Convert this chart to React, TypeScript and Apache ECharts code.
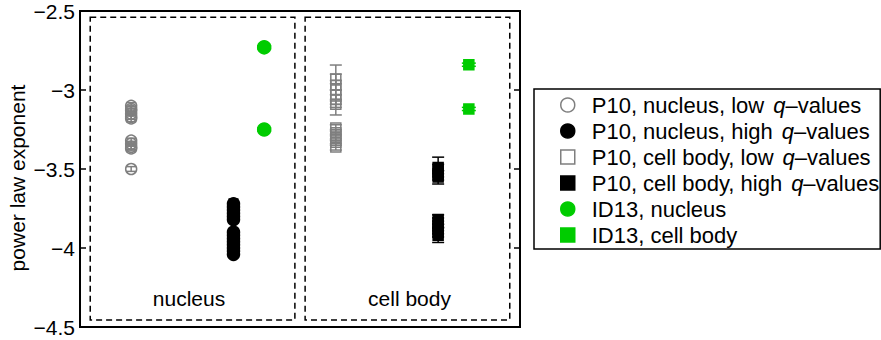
import React, { useEffect, useRef } from "react";
import * as echarts from "echarts";

// ---- data ----
const seriesNames = [
  "P10, nucleus, low",
  "P10, nucleus, high",
  "P10, cell body, low",
  "P10, cell body, high",
  "ID13, nucleus",
  "ID13, cell body",
];
const hasQSuffix = [true, true, true, true, false, false];
const groupX = [1, 3, 5, 7, 3.6, 7.6];
// order: nucleus-low, nucleus-high, cellbody-low, cellbody-high, id13-nucleus, id13-cellbody
const nucLowVals = [-3.1, -3.12, -3.13, -3.15, -3.17, -3.18, -3.32, -3.34, -3.36, -3.37, -3.5];
const nucLowErr = [0.02, 0.015, 0.015, 0.015, 0.015, 0.02, 0.015, 0.015, 0.015, 0.015, 0.015];
const nucHighVals = [-3.72, -3.74, -3.76, -3.78, -3.8, -3.82, -3.9, -3.92, -3.94, -3.96, -3.98, -4.0, -4.02, -4.04];
const nucHighErr = [0.03, 0.02, 0.02, 0.02, 0.02, 0.02, 0.015, 0.015, 0.015, 0.015, 0.015, 0.015, 0.015, 0.015];
const cellLowVals = [-2.93, -2.97, -3.0, -3.03, -3.06, -3.09, -3.24, -3.27, -3.3, -3.33, -3.36];
const cellLowErr = [0.03, 0.03, 0.158, 0.03, 0.03, 0.02, 0.02, 0.02, 0.02, 0.02, 0.02];
const cellHighVals = [-3.49, -3.51, -3.53, -3.55, -3.82, -3.84, -3.86, -3.88, -3.9, -3.92];
const cellHighErr = [0.02, 0.085, 0.02, 0.02, 0.03, 0.03, 0.03, 0.03, 0.03, 0.045];
const id13NucVals = [-2.73, -3.25];
const id13NucErr = [0.01, 0.01];
const id13CellVals = [-2.84, -3.12];
const id13CellErr = [0.01, 0.01];

const yTickValues = [-4.5, -4, -3.5, -3, -2.5];
const regionLabels = ["nucleus", "cell body"];
const regionLabelX = [2.13, 6.44];
const regionLabelY = -4.32;
const regionBoxX0 = [0.2, 4.4];
const regionBoxX1 = [4.2, 8.4];
const regionBoxTop = -2.54;
const regionBoxBottom = -4.455;
const yAxisTitle = "power law exponent";

const GRAY = "#7f7f7f";
const GREEN = "#00cc00";
const FONT = "Liberation Sans, Arial, Helvetica, sans-serif";
const FS = 21;
const LFS = 22;

const groups = [
  { vals: nucLowVals, err: nucLowErr, symbol: "circle", size: 11, fill: "rgba(0,0,0,0)", stroke: GRAY, legendFill: "#fff", cap: 5 },
  { vals: nucHighVals, err: nucHighErr, symbol: "circle", size: 12, fill: "#000", stroke: "#000", legendFill: "#000", cap: 5 },
  { vals: cellLowVals, err: cellLowErr, symbol: "rect", size: 10, fill: "rgba(0,0,0,0)", stroke: GRAY, legendFill: "#fff", cap: 6 },
  { vals: cellHighVals, err: cellHighErr, symbol: "rect", size: 10, fill: "#000", stroke: "#000", legendFill: "#000", cap: 6 },
  { vals: id13NucVals, err: id13NucErr, symbol: "circle", size: 13, fill: GREEN, stroke: GREEN, legendFill: GREEN, cap: 7 },
  { vals: id13CellVals, err: id13CellErr, symbol: "rect", size: 10, fill: GREEN, stroke: GREEN, legendFill: GREEN, cap: 7 },
];

export default function App() {
  const ref = useRef<HTMLDivElement>(null);
  useEffect(() => {
    if (!ref.current) return;
    const chart = echarts.init(ref.current, undefined, { renderer: "svg" });

    const series: any[] = [];
    // dashed region boxes
    series.push({
      type: "custom",
      silent: true,
      z: 1,
      data: regionBoxX0.map((x0, i) => [x0, regionBoxX1[i], regionBoxTop, regionBoxBottom]),
      encode: { x: [0, 1], y: [2, 3] },
      renderItem: (_p: any, api: any) => {
        const a = api.coord([api.value(0), api.value(2)]);
        const b = api.coord([api.value(1), api.value(3)]);
        return {
          type: "rect",
          shape: { x: a[0], y: a[1], width: b[0] - a[0], height: b[1] - a[1] },
          style: { fill: "none", stroke: "#000", lineWidth: 1.5, lineDash: [6, 4] },
        };
      },
    });
    // region labels
    series.push({
      type: "custom",
      silent: true,
      z: 1,
      data: regionLabels.map((t, i) => [regionLabelX[i], regionLabelY, t]),
      encode: { x: 0, y: 1 },
      renderItem: (p: any, api: any) => {
        const c = api.coord([api.value(0), api.value(1)]);
        return {
          type: "text",
          x: c[0],
          y: c[1],
          style: {
            text: regionLabels[p.dataIndex],
            fill: "#000",
            fontSize: FS,
            fontFamily: FONT,
            align: "center",
            verticalAlign: "middle",
            textAlign: "center",
            textVerticalAlign: "middle",
          },
        };
      },
    });

    groups.forEach((g, gi) => {
      const x = groupX[gi];
      series.push({
        type: "custom",
        silent: true,
        z: 2,
        data: g.vals.map((v, i) => [x, v, g.err[i]]),
        encode: { x: 0, y: 1 },
        renderItem: (_p: any, api: any) => {
          const xv = api.value(0), v = api.value(1), e = api.value(2);
          const t = api.coord([xv, v + e]);
          const b = api.coord([xv, v - e]);
          const st = { stroke: g.stroke, lineWidth: 1.5 };
          return {
            type: "group",
            children: [
              { type: "line", shape: { x1: t[0], y1: t[1], x2: b[0], y2: b[1] }, style: st },
              { type: "line", shape: { x1: t[0] - g.cap, y1: t[1], x2: t[0] + g.cap, y2: t[1] }, style: st },
              { type: "line", shape: { x1: b[0] - g.cap, y1: b[1], x2: b[0] + g.cap, y2: b[1] }, style: st },
            ],
          };
        },
      });
      series.push({
        type: "scatter",
        name: seriesNames[gi],
        z: 3,
        symbol: g.symbol,
        symbolSize: g.size,
        itemStyle: { color: g.fill, borderColor: g.stroke, borderWidth: 1.5, opacity: 1 },
        data: g.vals.map((v) => [x, v]),
      });
    });

    chart.setOption({
      animation: false,
      grid: {
        left: 80,
        top: 11,
        width: 440,
        height: 316,
        show: true,
        borderColor: "#000",
        borderWidth: 2,
        backgroundColor: "#fff",
      },
      xAxis: { type: "value", min: 0, max: 8.6, show: false },
      yAxis: [
        {
          type: "value",
          min: yTickValues[0],
          max: yTickValues[yTickValues.length - 1],
          interval: 0.5,
          position: "left",
          axisLine: { show: false },
          splitLine: { show: false },
          axisTick: { show: true, inside: true, length: 6, lineStyle: { color: "#000", width: 1.5 } },
          axisLabel: {
            margin: 5,
            color: "#000",
            fontSize: FS,
            fontFamily: FONT,
            formatter: (v: number) => String(v).replace("-", "\u2212"),
          },
        },
        {
          type: "value",
          min: yTickValues[0],
          max: yTickValues[yTickValues.length - 1],
          interval: 0.5,
          position: "right",
          axisLine: { show: false },
          splitLine: { show: false },
          axisTick: { show: true, inside: true, length: 6, lineStyle: { color: "#000", width: 1.5 } },
          axisLabel: { show: false },
        },
      ],
      legend: {
        orient: "vertical",
        left: 534,
        top: 89,
        padding: [5, 1, 3, 26],
        itemGap: 4,
        itemWidth: 14,
        itemHeight: 14,
        borderColor: "#000",
        borderWidth: 1.5,
        backgroundColor: "#fff",
        selectedMode: false,
        data: seriesNames.map((n, i) => ({
          name: n,
          icon: groups[i].symbol,
          itemStyle: { color: groups[i].legendFill, borderColor: groups[i].stroke, borderWidth: 1.5 },
        })),
        formatter: (name: string) => {
          const i = seriesNames.indexOf(name);
          return hasQSuffix[i] ? `{p|${name}}{q|q}{a|\u2013values}` : `{p|${name}}`;
        },
        textStyle: {
          color: "#000",
          fontSize: LFS,
          fontFamily: FONT,
          rich: {
            p: { fontSize: LFS, fontFamily: FONT, color: "#000", padding: [0, 0, 0, 12] },
            a: { fontSize: LFS, fontFamily: FONT, color: "#000" },
            q: { fontSize: LFS, fontFamily: FONT, color: "#000", fontStyle: "italic", padding: [0, 0, 0, 9] },
          },
        },
      },
      graphic: [
        {
          type: "text",
          x: 17,
          y: 178,
          rotation: Math.PI / 2,
          style: {
            text: yAxisTitle,
            fill: "#000",
            fontSize: FS,
            fontFamily: FONT,
            align: "center",
            verticalAlign: "middle",
            textAlign: "center",
            textVerticalAlign: "middle",
          },
        },
      ],
      series,
    });
    return () => chart.dispose();
  }, []);
  return <div ref={ref} style={{ position: "absolute", left: 0, top: 0, width: 881, height: 340 }} />;
}
